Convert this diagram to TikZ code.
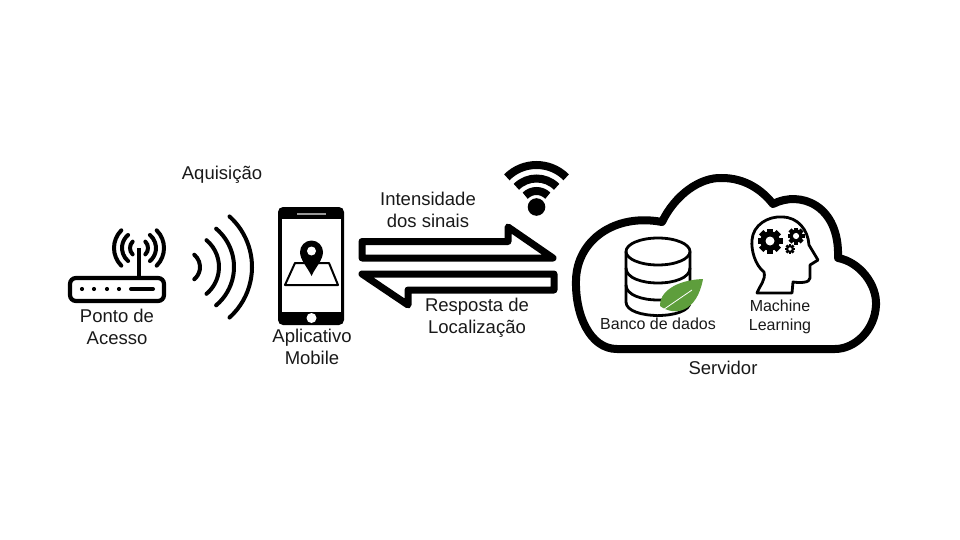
\documentclass[tikz,border=0pt]{standalone}
\usepackage{fontspec}
\setmainfont{Liberation Sans}
\definecolor{leafgreen}{HTML}{5E9E3C}
\tikzset{
    TX1/.style ={align=center, inner sep=0pt, font=\fontsize{18.5}{22}\selectfont, text=black!90},
    TX2/.style ={align=center, inner sep=0pt, font=\fontsize{16}{19}\selectfont, text=black!90},
    LN1/.style ={line width=7pt, line join=round, draw=black},
    LN2/.style ={line width=4pt, line cap=round, draw=black},
    LN3/.style ={line width=2.8pt, line join=round, draw=black},
    WF1/.style ={line width=8pt, draw=black}}
\newcommand{\gearicon}[3]{%
    \fill[black] (#1,#2) circle (#3*0.78);
    \foreach \ang in {0,45,...,315}
        \draw[black, line width=#3*0.5pt] (#1,#2) -- +(\ang:#3);
    \fill[white] (#1,#2) circle (#3*0.36);}

\begin{document}
\begin{tikzpicture}[x=1pt,y=-1pt]
        \useasboundingbox (0,0) rectangle (960,540);
        % ponto de acesso
        \coordinate (antena) at (139,248);
        \draw[line width=4.2pt, rounded corners=6pt] (70,278) rectangle (164,301);
        \draw[line width=4pt] (antena) -- (139,278);
        \draw[LN2] (antena) ++(-45:9) arc (-45:45:9);
        \draw[LN2] (antena) ++(-50:17) arc (-50:50:17);
        \draw[LN2] (antena) ++(-45:25) arc (-45:45:25);
        \draw[LN2] (antena) ++(135:9) arc (135:225:9);
        \draw[LN2] (antena) ++(130:17) arc (130:230:17);
        \draw[LN2] (antena) ++(135:25) arc (135:225:25);
        \fill (82,289) circle (2.1);
        \fill (94,289) circle (2.1);
        \fill (107,289) circle (2.1);
        \fill (119,289) circle (2.1);
        \draw[LN2] (131,289) -- (153,289);
        % ondas
        \coordinate (onda) at (184,267);
        \draw[LN2] (onda) ++(-50:16) arc (-50:50:16);
        \draw[LN2] (onda) ++(-50:35) arc (-50:50:35);
        \draw[LN2] (onda) ++(-50:50) arc (-50:50:50);
        \draw[LN2] (onda) ++(-48:68) arc (-48:48:68);
        % celular
        \fill[rounded corners=5pt] (278,207) rectangle (344,325);
        \fill[white] (282,219) rectangle (341,312);
        \draw[white!60!black, line width=1.2pt] (297,214) -- (326,214);
        \fill[white] (311.5,318) circle (5);
        \draw[line width=2pt, line join=round] (295,263) -- (285,285) -- (338,285) -- (329,263) -- cycle;
        \fill[white] (311.5,252) circle (13);
        \fill[black] (311.5,276) .. controls (308,268) and (300,260) .. (300,252)
            arc (180:360:11.5) .. controls (323,260) and (315,268) .. (311.5,276);
        \fill[white] (311.5,251) circle (4.5);
        % setas
        \draw[LN1] (362,241.5) -- (508,241.5) -- (508,227) -- (553,258) -- (362,258) -- cycle;
        \draw[LN1] (362,274) -- (554,274) -- (554,290) -- (408,290) -- (408,305) -- cycle;
        % wifi
        \coordinate (wifi) at (536.5,207);
        \fill (wifi) circle (8.8);
        \draw[WF1] (wifi) ++(-135:42) arc (-135:-45:42);
        \draw[WF1] (wifi) ++(-135:28.5) arc (-135:-45:28.5);
        \draw[WF1] (wifi) ++(-135:16) arc (-135:-45:16);
        % nuvem
        \draw[line width=8pt, line join=round] (617,349)
            .. controls (590,349) and (575,315) .. (576,280)
            .. controls (577,240) and (615,213) .. (662,222)
            .. controls (675,195) and (700,177) .. (722,178)
            .. controls (745,178) and (762,190) .. (773,204)
            .. controls (800,190) and (840,205) .. (838,258)
            .. controls (860,262) and (877,285) .. (876,305)
            .. controls (875,330) and (855,349) .. (835,349) -- cycle;
        % banco de dados
        \draw[LN3] (658,251.5) ellipse (32 and 13.5);
        \draw[LN3] (626,251.5) -- (626,302) .. controls (626,320) and (690,320) .. (690,302) -- (690,251.5);
        \draw[LN3] (626,268) .. controls (626,288) and (690,288) .. (690,268);
        \draw[LN3] (626,285) .. controls (626,305) and (690,305) .. (690,285);
        \fill[leafgreen] (703,279) .. controls (675,280) and (659,293) .. (660,306)
            .. controls (675,317) and (697,312) .. (703,279);
        \draw[white, line width=.8pt] (657,314) -- (692,290);
        % cabeca
        \draw[LN3] (757,293) .. controls (760,285) and (766,280) .. (764,272)
            .. controls (755,265) and (751,250) .. (752,240)
            .. controls (753,225) and (768,216) .. (782,217)
            .. controls (798,217) and (808,230) .. (809,245)
            -- (818,260) -- (810,265) -- (810,278)
            .. controls (810,283) and (800,283) .. (793,282) -- (792,293) -- cycle;
        \gearicon{770}{241}{12.5}
        \gearicon{796}{236}{8.5}
        \gearicon{790}{249}{5}
        % textos
        \node[TX1] (aquisicao) at (222,175){Aquisição};
        \node[TX1] (ponto) at (117,327){Ponto de\\Acesso};
        \node[TX1] (aplicativo) at (312,347){Aplicativo\\Mobile};
        \node[TX1] (intensidade) at (428,210){Intensidade\\dos sinais};
        \node[TX1] (resposta) at (477,318){Resposta de\\Localização};
        \node[TX2] (banco) at (658,324){Banco de dados};
        \node[TX2] (machine) at (780,316.5){Machine\\Learning};
        \node[TX1] (servidor) at (723,368){Servidor};
\end{tikzpicture}
\end{document}
